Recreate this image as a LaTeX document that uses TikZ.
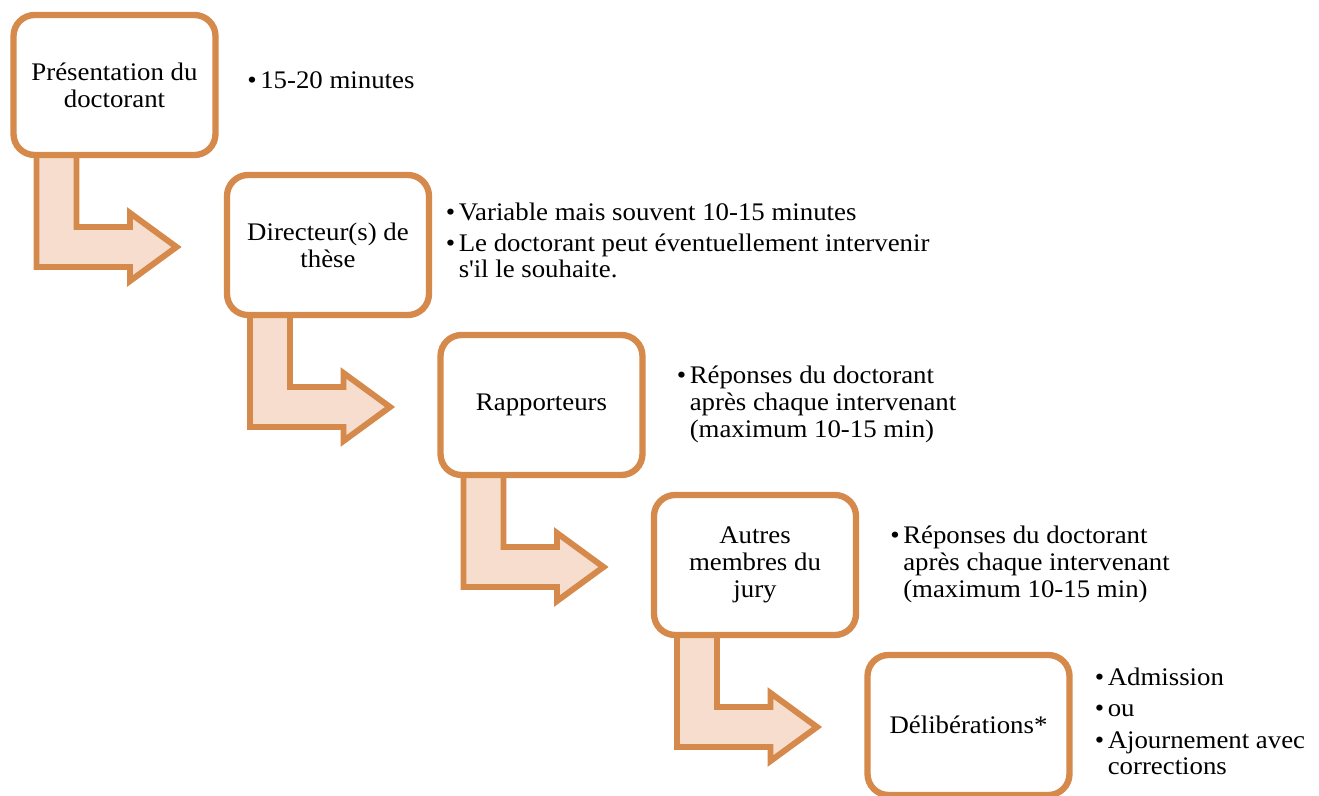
\documentclass[tikz,border=0pt]{standalone}
\usepackage{fontspec}
\setmainfont[FakeStretch=1.06]{Liberation Serif}
\usetikzlibrary{backgrounds}
\definecolor{stageline}{RGB}{213,137,74}
\definecolor{stagefill}{RGB}{246,221,206}
\newcommand{\txtsize}{\fontsize{14.4}{15.3}\selectfont}
\newcommand{\bul}{\textbullet}
\tikzset{
  stage/.style={draw=stageline, line width=3.6pt, rounded corners=12pt, fill=white,
    minimum width=202*0.02cm, minimum height=140*0.02cm, outer sep=0pt,
    align=center, font=\txtsize},
  notes/.style={anchor=west, inner sep=0pt, font=\txtsize},
  bendarrow/.style={draw=stageline, fill=stagefill, line width=3.4pt, line join=miter},
}
\begin{document}
\begin{tikzpicture}[x=0.02cm, y=-0.02cm]
\useasboundingbox (0,0) rectangle (1319,795);
\clip (0,0) rectangle (1319,795);
% steps of the defence
\node[stage] (b1) at (114.5,85) {Présentation du\\doctorant};
\node[stage] (b2) at ([shift={(213.5,160)}]b1) {Directeur(s) de\\thèse};
\node[stage] (b3) at ([shift={(213.5,160)}]b2) {Rapporteurs};
\node[stage] (b4) at ([shift={(213.5,160)}]b3) {Autres\\membres du\\jury};
\node[stage] (b5) at ([shift={(213.5,160)}]b4) {Délibérations*};
% notes
\node[notes] (n1) at ([shift={(31.5,-2)}]b1.east) {\begin{tabular}{@{}l@{\hspace{2pt}}l@{}}
\bul & 15-20 minutes\end{tabular}};
\node[notes] (n2) at ([shift={(16.5,-1)}]b2.east) {\begin{tabular}{@{}l@{\hspace{2pt}}l@{}}
\bul & Variable mais souvent 10-15 minutes\\[1.9pt]
\bul & Le doctorant peut éventuellement intervenir\\
 & s\textquotesingle il le souhaite.\end{tabular}};
\node[notes] (n3) at ([shift={(34,0)}]b3.east) {\begin{tabular}{@{}l@{\hspace{2pt}}l@{}}
\bul & Réponses du doctorant\\
 & après chaque intervenant\\
 & (maximum 10-15 min)\end{tabular}};
\node[notes] (n4) at ([shift={(34,0)}]b4.east) {\begin{tabular}{@{}l@{\hspace{2pt}}l@{}}
\bul & Réponses du doctorant\\
 & après chaque intervenant\\
 & (maximum 10-15 min)\end{tabular}};
\node[notes] (n5) at ([shift={(25,0)}]b5.east) {\begin{tabular}{@{}l@{\hspace{2pt}}l@{}}
\bul & Admission\\[2.4pt]
\bul & ou\\[2.4pt]
\bul & Ajournement avec\\
 & corrections\end{tabular}};
% bent arrows between steps
\begin{scope}[on background layer]
\foreach \i in {1,...,4}
  \draw[bendarrow, shift={(b\i.south west)}] (23,0) -- (23,112) -- (116.5,112)
    -- (116.5,126) -- (163,92) -- (116.5,58) -- (116.5,72) -- (63,72) -- (63,0) -- cycle;
\end{scope}
\end{tikzpicture}
\end{document}
